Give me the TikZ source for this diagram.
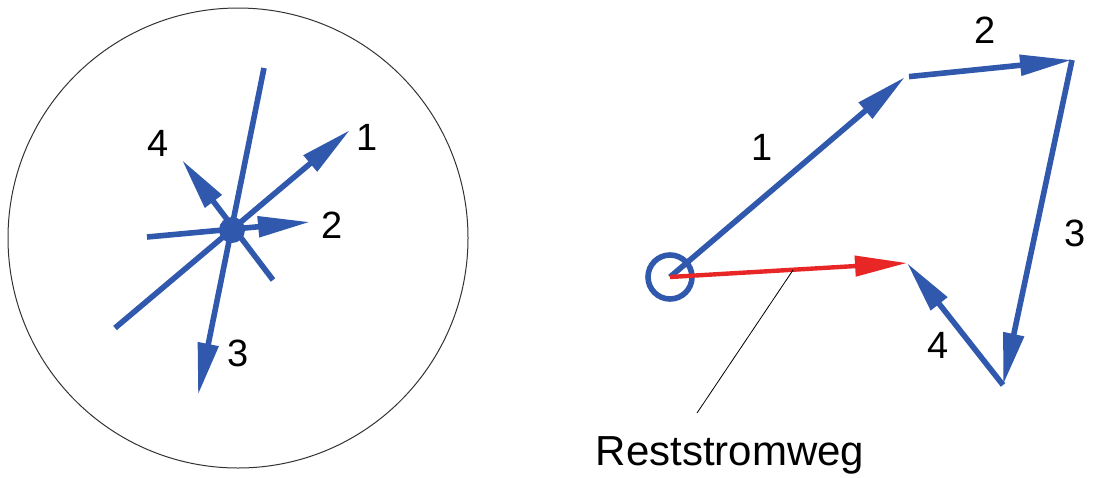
\documentclass[tikz,border=0pt]{standalone}
\usepackage{fontspec}
\setmainfont{Liberation Sans}
\usetikzlibrary{arrows.meta,calc}
\definecolor{vecblue}{RGB}{48,88,172}
\definecolor{vecred}{RGB}{232,38,38}

\begin{document}
\begin{tikzpicture}[x=0.5pt,y=-0.5pt,
   vec/.style={draw=vecblue,line width=2.8pt,-{Triangle[length=26pt,width=10pt]}},
   res/.style={vec,draw=vecred,line width=2.2pt},
   lbl/.style={font=\fontsize{19}{22}\selectfont,inner sep=0pt}]
  \useasboundingbox (0,0) rectangle (1095,477);
  \coordinate (m) at (238,238);
  \draw[line width=0.5pt,black!80] (m) circle (115pt);
  \coordinate (c) at (232,230);
  \coordinate (l1s) at (115,328);
  \coordinate (l1e) at (350,130);
  \coordinate (l2s) at (147,237);
  \coordinate (l2e) at (310,222);
  \coordinate (l3s) at (264,68);
  \coordinate (l3e) at (198,395);
  \coordinate (l4s) at (273,280);
  \coordinate (l4e) at (182,160);
  \draw[vec] (l1s) -- (l1e);
  \draw[vec] (l2s) -- (l2e);
  \draw[vec] (l3s) -- (l3e);
  \draw[vec] (l4s) -- (l4e);
  \fill[vecblue] (c) circle (6.5pt);
  \node[lbl] (n1) at (367,137) {1};
  \node[lbl] (n2) at (332,225) {2};
  \node[lbl] (n3) at (238,353) {3};
  \node[lbl] (n4) at (158,143) {4};

  \coordinate (o) at (670,277);
  \coordinate (p1) at (905,77);
  \coordinate (p2) at (1072,60);
  \coordinate (p3) at (1003,385);
  \coordinate (p4) at (907,263);
  \draw[vecblue,line width=2.8pt] (o) circle (11pt);
  \draw[vec] (o) -- (p1);
  \draw[vec,shorten <=2pt] (p1) -- (p2);
  \draw[vec] (p2) -- (p3);
  \draw[vec] (p3) -- (p4);
  \draw[res] (o) -- (p4);
  \node[lbl] (m1) at (762,147) {1};
  \node[lbl] (m2) at (985,30) {2};
  \node[lbl] (m3) at (1075,233) {3};
  \node[lbl] (m4) at (938,345) {4};
  \node[anchor=base,font=\fontsize{21}{24}\selectfont,inner sep=0pt] (rw) at (730,465) {Reststromweg};
  \coordinate (le) at (697,413);
  \draw[line width=0.4pt] ($(o)!0.52!(p4)$) -- (le);
\end{tikzpicture}
\end{document}
